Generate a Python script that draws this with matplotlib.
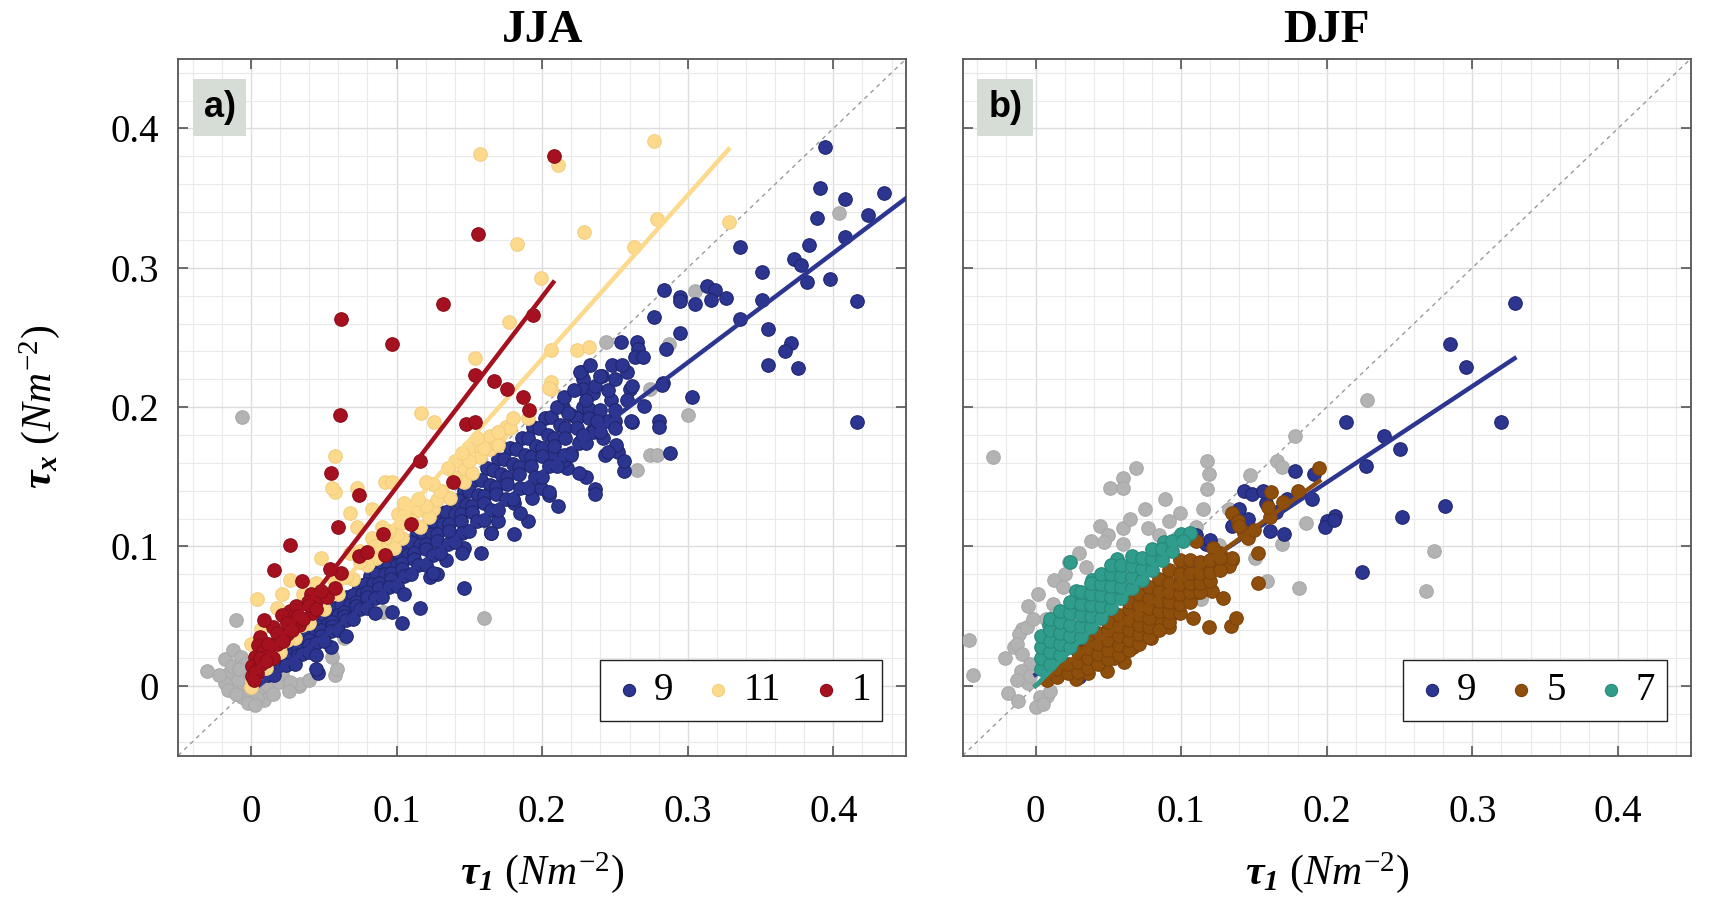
import matplotlib
matplotlib.use("Agg")
import matplotlib.pyplot as plt
from matplotlib.ticker import MultipleLocator, FuncFormatter

plt.rcParams["font.family"] = ["Liberation Serif", "DejaVu Serif"]
plt.rcParams["mathtext.fontset"] = "custom"
plt.rcParams["mathtext.rm"] = "Liberation Serif"
plt.rcParams["mathtext.it"] = "Liberation Serif:italic"
plt.rcParams["mathtext.bf"] = "Liberation Serif:bold:italic"

# ---------------- JJA (panel a) ----------------
gray_a = [(-0.006, 0.193), (0.244, 0.247), (0.287, 0.245), (0.305, 0.283), (0.274, 0.213),
          (0.300, 0.194), (0.274, 0.166), (0.279, 0.166), (0.265, 0.155), (0.404, 0.339),
          (0.160, 0.049), (0.164, 0.114), (0.091, 0.053), (0.064, 0.034), (0.058, 0.008),
          (0.033, 0.000), (-0.010, 0.047), (-0.030, 0.011), (-0.018, 0.019), (-0.015, 0.009),
          (-0.012, 0.026), (-0.003, -0.002), (-0.009, 0.004), (-0.013, 0.014), (-0.006, -0.008),
          (0.006, -0.005), (0.012, 0.000), (0.019, 0.003), (-0.007, 0.021), (-0.001, 0.009),
          (0.001, -0.008), (0.009, -0.010), (0.004, -0.009), (0.034, 0.001), (0.059, 0.012),
          (0.056, 0.021), (-0.018, 0.002), (0.021, 0.009), (0.027, 0.003), (-0.022, 0.008),
          (-0.016, -0.003), (-0.010, -0.006), (-0.004, 0.016), (-0.008, 0.012), (0.002, 0.002),
          (0.015, -0.006), (0.026, -0.004), (0.040, 0.004), (-0.002, -0.012), (0.003, -0.014)]

blue_a = [(0.394, 0.387), (0.391, 0.357), (0.408, 0.349), (0.389, 0.336), (0.435, 0.354),
          (0.424, 0.338), (0.408, 0.322), (0.383, 0.316), (0.373, 0.306), (0.378, 0.302),
          (0.351, 0.297), (0.382, 0.290), (0.398, 0.292), (0.351, 0.277), (0.416, 0.276),
          (0.355, 0.256), (0.371, 0.246), (0.367, 0.240), (0.355, 0.230), (0.376, 0.228),
          (0.416, 0.189), (0.336, 0.315), (0.284, 0.284), (0.295, 0.279), (0.295, 0.276),
          (0.305, 0.274), (0.313, 0.287), (0.319, 0.284), (0.316, 0.277), (0.326, 0.278),
          (0.277, 0.265), (0.295, 0.253), (0.285, 0.242), (0.254, 0.247), (0.265, 0.247),
          (0.266, 0.242), (0.264, 0.236), (0.269, 0.236), (0.248, 0.230), (0.258, 0.225),
          (0.227, 0.225), (0.241, 0.222), (0.336, 0.263), (0.283, 0.217), (0.303, 0.207),
          (0.270, 0.201), (0.262, 0.189), (0.280, 0.190), (0.280, 0.186), (0.228, 0.220),
          (0.228, 0.213), (0.235, 0.210), (0.247, 0.205), (0.242, 0.178), (0.252, 0.168),
          (0.288, 0.167), (0.220, 0.167), (0.260, 0.213), (0.146, 0.070), (0.116, 0.056),
          (0.104, 0.045), (0.097, 0.053), (0.046, 0.009), (0.055, 0.028), (0.123, 0.078),
          (0.128, 0.080), (0.236, 0.141), (0.236, 0.138), (0.211, 0.129), (0.205, 0.137),
          (0.193, 0.135), (0.256, 0.154), (0.256, 0.161), (0.243, 0.166), (0.251, 0.173),
          (0.230, 0.150), (0.217, 0.156), (0.215, 0.162), (0.208, 0.165), (0.261, 0.190),
          (0.282, 0.216), (0.234, 0.183), (0.226, 0.175), (0.181, 0.109), (0.165, 0.110),
          (0.170, 0.118), (0.190, 0.118), (0.199, 0.142), (0.181, 0.131), (0.158, 0.095),
          (0.146, 0.099), (0.134, 0.090), (0.045, 0.012),
          # dense band
          (0.010, 0.010), (0.018, 0.017), (0.026, 0.025), (0.034, 0.033), (0.042, 0.040),
          (0.050, 0.048), (0.058, 0.056), (0.066, 0.064), (0.074, 0.071), (0.082, 0.079),
          (0.090, 0.087), (0.098, 0.094), (0.106, 0.102), (0.114, 0.110), (0.122, 0.117),
          (0.130, 0.125), (0.138, 0.133), (0.146, 0.140), (0.154, 0.148), (0.162, 0.156),
          (0.170, 0.163), (0.178, 0.171), (0.186, 0.178), (0.194, 0.186), (0.202, 0.192),
          (0.014, 0.013), (0.022, 0.021), (0.030, 0.028), (0.038, 0.036), (0.046, 0.043),
          (0.054, 0.050), (0.062, 0.058), (0.070, 0.065), (0.078, 0.073), (0.086, 0.080),
          (0.094, 0.088), (0.102, 0.095), (0.110, 0.103), (0.118, 0.110), (0.126, 0.118),
          (0.134, 0.125), (0.142, 0.133), (0.150, 0.140), (0.158, 0.148), (0.166, 0.155),
          (0.174, 0.163), (0.182, 0.170), (0.190, 0.178), (0.198, 0.185), (0.206, 0.193),
          (0.214, 0.200),
          (0.012, 0.008), (0.020, 0.015), (0.028, 0.022), (0.036, 0.030), (0.044, 0.037),
          (0.052, 0.044), (0.060, 0.051), (0.068, 0.058), (0.076, 0.066), (0.084, 0.073),
          (0.092, 0.080), (0.100, 0.087), (0.108, 0.094), (0.116, 0.101), (0.124, 0.109),
          (0.132, 0.116), (0.140, 0.123), (0.148, 0.130), (0.156, 0.137), (0.164, 0.144),
          (0.172, 0.152), (0.180, 0.159), (0.188, 0.166), (0.196, 0.172), (0.204, 0.180),
          (0.212, 0.187), (0.220, 0.194), (0.228, 0.200),
          (0.024, 0.019), (0.032, 0.026), (0.040, 0.033), (0.048, 0.040), (0.056, 0.046),
          (0.064, 0.053), (0.072, 0.060), (0.080, 0.067), (0.088, 0.074), (0.096, 0.081),
          (0.104, 0.088), (0.112, 0.095), (0.120, 0.102), (0.128, 0.109), (0.136, 0.116),
          (0.144, 0.123), (0.152, 0.129), (0.160, 0.136), (0.168, 0.143), (0.176, 0.150),
          (0.184, 0.157), (0.192, 0.164), (0.200, 0.171), (0.208, 0.178), (0.216, 0.185),
          (0.224, 0.192), (0.232, 0.199),
          (0.016, 0.008), (0.024, 0.015), (0.032, 0.022), (0.040, 0.029), (0.048, 0.036),
          (0.056, 0.043), (0.064, 0.050), (0.072, 0.057), (0.080, 0.064), (0.088, 0.070),
          (0.096, 0.077), (0.104, 0.084), (0.112, 0.091), (0.120, 0.098), (0.128, 0.104),
          (0.136, 0.111), (0.144, 0.118), (0.152, 0.125), (0.160, 0.131), (0.168, 0.138),
          (0.176, 0.145), (0.184, 0.152), (0.192, 0.158), (0.200, 0.165), (0.208, 0.172),
          (0.216, 0.178), (0.224, 0.185), (0.232, 0.192), (0.240, 0.198),
          (0.035, 0.023), (0.045, 0.031), (0.055, 0.039), (0.065, 0.047), (0.075, 0.055),
          (0.085, 0.063), (0.095, 0.071), (0.105, 0.079), (0.115, 0.087), (0.125, 0.094),
          (0.135, 0.102), (0.145, 0.110), (0.155, 0.118), (0.165, 0.126), (0.175, 0.134),
          (0.185, 0.142), (0.195, 0.150), (0.205, 0.158), (0.215, 0.166), (0.225, 0.174),
          (0.235, 0.182), (0.245, 0.190),
          (0.030, 0.016), (0.040, 0.024), (0.050, 0.032), (0.060, 0.040), (0.070, 0.048),
          (0.080, 0.056), (0.090, 0.064), (0.100, 0.072), (0.110, 0.080), (0.120, 0.087),
          (0.130, 0.095), (0.140, 0.103), (0.150, 0.111), (0.160, 0.119), (0.170, 0.126),
          (0.180, 0.134), (0.190, 0.142), (0.200, 0.150), (0.210, 0.158), (0.220, 0.166),
          (0.230, 0.174), (0.240, 0.182), (0.250, 0.190),
          (0.045, 0.022), (0.065, 0.036), (0.085, 0.052), (0.105, 0.066), (0.125, 0.081),
          (0.145, 0.095), (0.165, 0.110), (0.185, 0.124), (0.205, 0.139), (0.225, 0.153),
          (0.245, 0.168), (0.210, 0.200), (0.215, 0.207), (0.222, 0.212), (0.218, 0.196),
          (0.230, 0.205), (0.236, 0.215), (0.240, 0.222), (0.226, 0.225), (0.233, 0.230),
          (0.245, 0.212), (0.250, 0.220), (0.255, 0.230), (0.250, 0.198), (0.258, 0.205),
          (0.262, 0.215), (0.238, 0.190), (0.228, 0.180), (0.250, 0.185)]

yellow_a = [(0.157, 0.382), (0.211, 0.374), (0.277, 0.391), (0.279, 0.335), (0.229, 0.326),
            (0.183, 0.317), (0.263, 0.315), (0.328, 0.333), (0.199, 0.293), (0.177, 0.261),
            (0.206, 0.241), (0.224, 0.241), (0.232, 0.243), (0.154, 0.235), (0.117, 0.196),
            (0.126, 0.189), (0.164, 0.179), (0.172, 0.181), (0.175, 0.186), (0.206, 0.218),
            (0.206, 0.213), (0.058, 0.165), (0.157, 0.171), (0.058, 0.139), (0.056, 0.142),
            (0.073, 0.142), (0.092, 0.146), (0.097, 0.146), (0.083, 0.127), (0.068, 0.124),
            (0.073, 0.114), (0.101, 0.123), (0.103, 0.117), (0.115, 0.126), (0.125, 0.127),
            (0.131, 0.140), (0.140, 0.161), (0.146, 0.155), (0.149, 0.171), (0.157, 0.164),
            (0.178, 0.185), (0.190, 0.192), (0.205, 0.214), (0.128, 0.133), (0.122, 0.121),
            (0.116, 0.114), (0.104, 0.106), (0.098, 0.099), (0.092, 0.106), (0.086, 0.092),
            (0.083, 0.106), (0.048, 0.092), (0.027, 0.076), (0.004, 0.062), (0.018, 0.056),
            (0.036, 0.066), (0.068, 0.095), (0.057, 0.076), (0.045, 0.074), (0.021, 0.066),
            (0.007, 0.041), (0.000, 0.030), (0.001, 0.004), (0.000, -0.001), (0.146, 0.146),
            (0.137, 0.135), (0.152, 0.153), (0.164, 0.170), (0.170, 0.173),
            (0.010, 0.013), (0.020, 0.024), (0.030, 0.034), (0.040, 0.045), (0.050, 0.055),
            (0.060, 0.066), (0.070, 0.077), (0.080, 0.087), (0.090, 0.098), (0.100, 0.108),
            (0.110, 0.119), (0.120, 0.129), (0.130, 0.140), (0.140, 0.150), (0.150, 0.161),
            (0.160, 0.171), (0.170, 0.182), (0.180, 0.192), (0.005, 0.012), (0.015, 0.022),
            (0.025, 0.033), (0.035, 0.044), (0.045, 0.056), (0.055, 0.067), (0.065, 0.078),
            (0.075, 0.089), (0.085, 0.100), (0.095, 0.111), (0.105, 0.123), (0.115, 0.134),
            (0.125, 0.145), (0.135, 0.156), (0.145, 0.167), (0.155, 0.178),
            (0.015, 0.030), (0.030, 0.047), (0.045, 0.064), (0.060, 0.080), (0.075, 0.097),
            (0.090, 0.114), (0.105, 0.131), (0.120, 0.146)]

red_a = [(0.208, 0.380), (0.156, 0.324), (0.132, 0.274), (0.062, 0.263), (0.097, 0.245),
         (0.194, 0.266), (0.154, 0.223), (0.167, 0.219), (0.176, 0.213), (0.187, 0.207),
         (0.191, 0.198), (0.148, 0.188), (0.154, 0.189), (0.061, 0.194), (0.055, 0.153),
         (0.074, 0.137), (0.116, 0.161), (0.139, 0.146), (0.060, 0.114), (0.110, 0.116),
         (0.091, 0.109), (0.027, 0.101), (0.016, 0.083), (0.074, 0.093), (0.080, 0.096),
         (0.092, 0.094), (0.062, 0.081), (0.054, 0.084), (0.035, 0.075), (0.041, 0.066),
         (0.027, 0.054), (0.031, 0.057), (0.039, 0.060), (0.045, 0.061), (0.052, 0.064),
         (0.058, 0.070), (0.021, 0.051), (0.015, 0.042), (0.006, 0.035), (0.005, 0.029),
         (0.009, 0.047), (0.003, 0.021), (0.001, 0.014), (0.004, 0.009), (0.012, 0.023),
         (0.018, 0.030), (0.025, 0.037), (0.033, 0.044), (0.042, 0.052), (0.001, 0.007),
         (0.007, 0.016), (0.008, 0.025), (0.012, 0.030), (0.015, 0.020), (0.018, 0.038),
         (0.022, 0.032), (0.025, 0.045), (0.028, 0.040), (0.032, 0.050), (0.036, 0.048),
         (0.040, 0.058), (0.045, 0.055), (0.048, 0.068), (0.003, 0.010), (0.006, 0.020),
         (0.010, 0.018), (0.002, 0.004)]

# fit lines (end points)
fit_a = {
    "9": ([0.005, 0.45], [0.0, 0.350]),
    "11": ([0.0, 0.328], [0.0, 0.385]),
    "1": ([0.0, 0.2076], [0.006, 0.2895]),
}

# ---------------- DJF (panel b) ----------------
gray_b = [(-0.029, 0.164), (0.069, 0.156), (0.060, 0.149), (0.051, 0.142), (0.060, 0.142),
          (0.118, 0.161), (0.119, 0.152), (0.118, 0.141), (0.089, 0.134), (0.075, 0.127),
          (0.099, 0.124), (0.115, 0.127), (0.044, 0.115), (0.060, 0.113), (0.077, 0.113),
          (0.038, 0.104), (0.050, 0.108), (0.047, 0.103), (0.060, 0.102), (0.023, 0.089),
          (0.035, 0.085), (0.013, 0.076), (-0.005, 0.057), (0.012, 0.059), (-0.009, 0.041),
          (-0.015, 0.028), (-0.021, 0.020), (-0.046, 0.033), (-0.043, 0.008), (-0.019, -0.005),
          (-0.012, -0.011), (-0.005, 0.002), (0.008, -0.007), (0.178, 0.179), (0.166, 0.161),
          (0.169, 0.157), (0.147, 0.151), (0.228, 0.205), (0.186, 0.117), (0.181, 0.070),
          (0.159, 0.075), (0.169, 0.102), (0.151, 0.092), (0.124, 0.085), (0.114, 0.062),
          (0.133, 0.127), (0.110, 0.114), (0.097, 0.106), (0.085, 0.108), (0.087, 0.099),
          (0.126, 0.101), (0.274, 0.097), (0.268, 0.068), (-0.011, 0.037), (-0.006, 0.042),
          (-0.013, 0.030), (-0.009, 0.023), (-0.004, 0.016), (-0.010, 0.011), (-0.013, 0.004),
          (-0.004, 0.007), (0.003, -0.008), (0.010, -0.004), (0.014, 0.052), (0.019, 0.071),
          (0.007, 0.048), (0.000, -0.015), (0.005, -0.013), (0.002, 0.066), (0.030, 0.095),
          (0.065, 0.120), (0.092, 0.118), (-0.002, 0.048), (0.020, 0.080)]

blue_b = [(0.329, 0.275), (0.285, 0.245), (0.296, 0.229), (0.320, 0.189), (0.213, 0.189),
          (0.239, 0.179), (0.250, 0.170), (0.227, 0.158), (0.281, 0.129), (0.252, 0.121),
          (0.206, 0.122), (0.200, 0.118), (0.224, 0.082), (0.178, 0.154), (0.191, 0.152),
          (0.190, 0.134), (0.199, 0.114), (0.205, 0.119), (0.171, 0.109), (0.161, 0.111),
          (0.165, 0.125), (0.158, 0.131), (0.146, 0.120), (0.143, 0.140), (0.149, 0.138),
          (0.156, 0.140), (0.140, 0.127), (0.173, 0.134), (0.117, 0.102), (0.110, 0.108),
          (0.126, 0.094), (0.097, 0.059), (0.030, 0.006), (0.050, 0.040), (0.080, 0.070),
          (0.120, 0.105), (0.135, 0.115)]

brown_b = [(0.195, 0.156), (0.162, 0.139), (0.135, 0.124), (0.139, 0.118), (0.143, 0.110),
           (0.146, 0.106), (0.161, 0.121), (0.153, 0.095), (0.153, 0.074), (0.135, 0.090),
           (0.133, 0.086), (0.135, 0.092), (0.127, 0.095), (0.121, 0.068), (0.129, 0.063),
           (0.108, 0.049), (0.119, 0.042), (0.134, 0.043), (0.138, 0.049), (0.092, 0.042),
           (0.095, 0.052), (0.085, 0.047), (0.079, 0.034), (0.061, 0.017), (0.054, 0.020),
           (0.067, 0.028), (0.110, 0.075), (0.108, 0.066), (0.115, 0.085), (0.122, 0.099),
           (0.110, 0.104), (0.101, 0.085), (0.036, 0.009), (0.049, 0.011), (0.028, 0.005),
           (0.008, 0.004), (0.015, 0.006), (0.015, 0.012), (0.022, 0.009), (0.022, 0.016),
           (0.029, 0.010), (0.029, 0.017), (0.029, 0.024),
           (0.036, 0.013), (0.036, 0.020), (0.036, 0.027), (0.036, 0.033),
           (0.043, 0.016), (0.043, 0.023), (0.043, 0.030), (0.043, 0.038),
           (0.050, 0.019), (0.050, 0.026), (0.050, 0.033), (0.050, 0.040), (0.050, 0.046),
           (0.057, 0.022), (0.057, 0.029), (0.057, 0.036), (0.057, 0.043), (0.057, 0.051),
           (0.064, 0.026), (0.064, 0.033), (0.064, 0.040), (0.064, 0.047), (0.064, 0.055),
           (0.064, 0.060),
           (0.071, 0.030), (0.071, 0.037), (0.071, 0.044), (0.071, 0.051), (0.071, 0.058),
           (0.071, 0.066),
           (0.078, 0.035), (0.078, 0.042), (0.078, 0.049), (0.078, 0.056), (0.078, 0.063),
           (0.078, 0.071),
           (0.085, 0.040), (0.085, 0.054), (0.085, 0.061), (0.085, 0.068), (0.085, 0.077),
           (0.092, 0.046), (0.092, 0.053), (0.092, 0.060), (0.092, 0.067), (0.092, 0.074),
           (0.092, 0.083),
           (0.099, 0.052), (0.099, 0.059), (0.099, 0.066), (0.099, 0.073), (0.099, 0.080),
           (0.099, 0.090),
           (0.106, 0.060), (0.106, 0.067), (0.106, 0.074), (0.106, 0.081), (0.106, 0.090),
           (0.113, 0.067), (0.113, 0.074), (0.113, 0.081), (0.113, 0.089),
           (0.120, 0.075), (0.120, 0.082), (0.120, 0.090), (0.127, 0.083), (0.127, 0.092),
           (0.140, 0.115), (0.160, 0.128), (0.180, 0.140), (0.150, 0.112), (0.170, 0.132)]

teal_b = [(0.024, 0.089), (0.056, 0.091), (0.088, 0.103), (0.009, 0.044), (0.023, 0.054),
          (0.039, 0.076), (0.049, 0.076), (0.028, 0.068), (0.032, 0.061), (0.100, 0.109),
          (0.106, 0.110),
          (0.004, 0.012), (0.004, 0.020), (0.004, 0.028), (0.004, 0.036),
          (0.010, 0.016), (0.010, 0.024), (0.010, 0.032), (0.010, 0.040), (0.010, 0.048),
          (0.017, 0.022), (0.017, 0.030), (0.017, 0.038), (0.017, 0.046), (0.017, 0.054),
          (0.024, 0.028), (0.024, 0.036), (0.024, 0.044), (0.024, 0.052), (0.024, 0.060),
          (0.031, 0.035), (0.031, 0.043), (0.031, 0.051), (0.031, 0.059), (0.031, 0.067),
          (0.038, 0.042), (0.038, 0.050), (0.038, 0.058), (0.038, 0.066), (0.038, 0.074),
          (0.045, 0.049), (0.045, 0.057), (0.045, 0.065), (0.045, 0.073), (0.045, 0.080),
          (0.052, 0.056), (0.052, 0.064), (0.052, 0.072), (0.052, 0.080), (0.052, 0.087),
          (0.059, 0.063), (0.059, 0.071), (0.059, 0.079), (0.059, 0.087),
          (0.066, 0.070), (0.066, 0.078), (0.066, 0.086), (0.066, 0.093),
          (0.073, 0.076), (0.073, 0.084), (0.073, 0.092), (0.080, 0.083), (0.080, 0.091),
          (0.080, 0.098), (0.087, 0.090), (0.087, 0.098), (0.094, 0.097), (0.094, 0.104),
          (0.101, 0.104)]

fit_b = {
    "9": ([0.0, 0.329], [0.008, 0.235]),
    "5": ([0.0, 0.195], [0.0, 0.147]),
    "7": ([0.0, 0.100], [0.0, 0.105]),
}

c_blue = "#2c3590"
c_yellow = "#fcd98b"
c_red = "#a6111f"
c_gray = "#b3b3b3"
c_brown = "#8f4f0c"
c_teal = "#2f9c8c"

edge = {c_blue: "#1f2670", c_yellow: "#f2cf80", c_red: "#8c0c19",
        c_gray: "#a9a9a9", c_brown: "#7c4209", c_teal: "#27897b"}

fig = plt.figure(figsize=(17.13, 9.18), dpi=100)
ax1 = fig.add_axes([0.104, 0.177, 0.425, 0.759])
ax2 = fig.add_axes([0.562, 0.177, 0.425, 0.759])

S = 95


def scat(ax, pts, color, z, label=None):
    xs = [p[0] for p in pts]
    ys = [p[1] for p in pts]
    return ax.scatter(xs, ys, s=S, c=color, edgecolors=edge[color], linewidths=0.8,
                      label=label, zorder=z)


def style(ax, title, tag):
    ax.set_xlim(-0.05, 0.45)
    ax.set_ylim(-0.05, 0.45)
    ax.axline((0, 0), slope=1, color="#9a9a9a", ls=(0, (3, 3)), lw=1.0, zorder=2)
    ax.xaxis.set_major_locator(MultipleLocator(0.1))
    ax.yaxis.set_major_locator(MultipleLocator(0.1))
    ax.xaxis.set_minor_locator(MultipleLocator(0.02))
    ax.yaxis.set_minor_locator(MultipleLocator(0.02))
    fmt = FuncFormatter(lambda v, p: "0" if abs(v) < 1e-9 else "%g" % round(v, 2))
    ax.xaxis.set_major_formatter(fmt)
    ax.yaxis.set_major_formatter(fmt)
    ax.grid(which="major", color="#dcdcdc", lw=1.0, zorder=0)
    ax.grid(which="minor", color="#e9e9e9", lw=0.8, zorder=0)
    ax.set_axisbelow(True)
    ax.tick_params(which="major", direction="in", length=7, width=1.2, color="#555555",
                   top=True, right=True, labelsize=28, pad=28)
    ax.tick_params(axis="y", which="major", pad=14)
    ax.tick_params(which="minor", length=0)
    for sp in ax.spines.values():
        sp.set_color("#555555")
        sp.set_linewidth(1.3)
    ax.set_title(title, fontsize=34, fontweight="bold", pad=12)
    ax.text(0.035, 0.955, tag, transform=ax.transAxes, ha="left", va="top",
            fontsize=26, fontweight="bold", family=["Liberation Sans", "DejaVu Sans"],
            bbox=dict(fc="#d6dcd6", ec="none", boxstyle="square,pad=0.3"), zorder=20)
    ax.set_xlabel(r"$\mathbf{τ_1}$ $\mathit{(Nm^{-2})}$", fontsize=30)
    ax.xaxis.set_label_coords(0.5, -0.135)


# panel a: each group's fit line sits right above its own points
scat(ax1, gray_a, c_gray, 3)
h9 = scat(ax1, blue_a, c_blue, 4, "9")
ax1.plot(fit_a["9"][0], fit_a["9"][1], color=c_blue, lw=3.2, zorder=5)
h11 = scat(ax1, yellow_a, c_yellow, 6, "11")
ax1.plot(fit_a["11"][0], fit_a["11"][1], color=c_yellow, lw=3.2, zorder=7)
h1 = scat(ax1, red_a, c_red, 8, "1")
ax1.plot(fit_a["1"][0], fit_a["1"][1], color=c_red, lw=3.2, zorder=9)
style(ax1, "JJA", "a)")
ax1.set_ylabel(r"$\mathbf{τ_x}$ $\mathit{(Nm^{-2})}$", fontsize=30)
ax1.yaxis.set_label_coords(-0.16, 0.5)

# panel b
scat(ax2, gray_b, c_gray, 3)
g9 = scat(ax2, blue_b, c_blue, 4, "9")
ax2.plot(fit_b["9"][0], fit_b["9"][1], color=c_blue, lw=3.2, zorder=5)
g5 = scat(ax2, brown_b, c_brown, 6, "5")
ax2.plot(fit_b["5"][0], fit_b["5"][1], color=c_brown, lw=3.2, zorder=7)
g7 = scat(ax2, teal_b, c_teal, 8, "7")
ax2.plot(fit_b["7"][0], fit_b["7"][1], color=c_teal, lw=3.2, zorder=9)
style(ax2, "DJF", "b)")
ax2.tick_params(labelleft=False)

for ax, hs in [(ax1, [h9, h11, h1]), (ax2, [g9, g5, g7])]:
    leg = ax.legend(handles=hs, loc="lower right", ncol=3, fontsize=28, frameon=True,
                    fancybox=False, edgecolor="#222222", framealpha=1,
                    handletextpad=0.2, columnspacing=0.7, borderpad=0.3,
                    handlelength=0.9, markerscale=0.9, bbox_to_anchor=(0.994, 0.022))
    leg.get_frame().set_linewidth(1.0)
    leg.set_zorder(20)

fig.savefig("out.png", dpi=100)
